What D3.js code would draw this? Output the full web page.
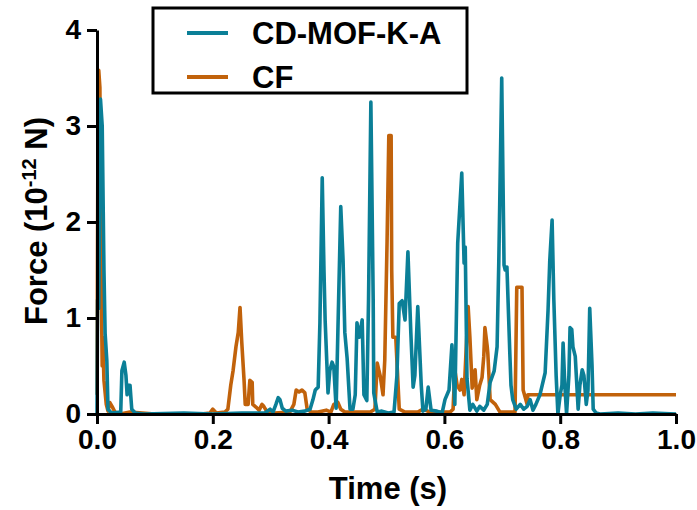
<!DOCTYPE html>
<html>
<head>
<meta charset="utf-8">
<script src="https://cdn.jsdelivr.net/npm/d3@7"></script>
<style>
  html, body { margin: 0; padding: 0; background: #fff; }
  svg { display: block; }
  text { font-family: "Liberation Sans", Arial, sans-serif; font-weight: bold; fill: #000; }
</style>
</head>
<body>
<svg id="chart" width="697" height="510"></svg>
<script>
// ---- data ----
const seriesNames = ["CD-MOF-K-A", "CF"];
const seriesColors = ["#0b7f97", "#c1620b"];

const mofTime = [0.000,0.001,0.003,0.006,0.009,0.012,0.014,0.017,0.019,0.025,
  0.041,0.043,0.047,0.050,0.052,0.054,0.057,0.060,0.066,0.080,0.150,0.200,0.250,0.290,
  0.299,0.304,0.309,0.313,0.316,0.320,0.326,0.337,0.347,0.359,0.368,0.373,0.377,0.382,
  0.385,0.389,0.392,0.394,0.399,0.402,0.406,0.409,0.413,0.416,0.421,0.425,0.428,0.432,
  0.437,0.442,0.446,0.449,0.453,0.458,0.461,0.466,0.469,0.473,0.477,0.478,0.484,0.492,0.503,
  0.513,0.518,0.522,0.527,0.532,0.537,0.542,0.546,0.549,0.554,0.560,0.563,0.568,0.572,
  0.577,0.587,0.596,0.601,0.608,0.613,0.618,0.623,0.630,0.634,0.636,0.639,0.644,0.649,
  0.656,0.661,0.668,0.674,0.679,0.686,0.691,0.694,0.699,0.703,0.705,0.708,0.713,0.715,
  0.718,0.724,0.731,0.737,0.743,0.748,0.753,0.758,0.765,0.774,0.779,0.782,0.786,0.789,
  0.793,0.796,0.800,0.803,0.805,0.808,0.811,0.815,0.817,0.820,0.822,0.826,0.831,0.834,
  0.838,0.841,0.845,0.848,0.851,0.855,0.857,0.862,0.869,0.900,0.930,0.960,1.000];
const mofForce = [0.00,1.19,1.10,3.28,3.00,1.50,0.84,0.55,0.05,0.01,
  0.02,0.45,0.54,0.40,0.20,0.30,0.30,0.05,0.01,0.00,0.01,0.00,0.01,0.01,
  0.05,0.02,0.10,0.17,0.15,0.06,0.03,0.04,0.02,0.03,0.05,0.15,0.25,0.28,
  0.95,2.46,1.50,0.98,0.22,0.45,0.54,0.49,0.06,0.85,2.16,1.60,0.85,0.58,
  0.05,0.05,0.20,0.95,0.80,0.98,0.20,0.14,1.20,3.25,1.20,0.22,0.02,0.03,0.01,
  0.02,0.40,1.15,1.18,0.98,1.69,0.85,0.28,0.40,1.12,0.30,0.03,0.05,0.28,
  0.04,0.03,0.01,0.15,0.25,0.72,0.10,1.78,2.51,1.57,1.74,0.37,0.04,0.10,
  0.03,0.08,0.04,0.10,0.33,0.45,0.70,1.60,3.50,1.55,1.50,1.53,0.63,0.30,
  0.15,0.05,0.10,0.05,0.08,0.15,0.04,0.10,0.20,0.43,1.08,1.60,2.02,1.19,
  0.40,0.00,0.20,0.30,0.74,0.30,0.00,0.40,0.90,0.88,0.70,0.60,0.05,0.30,
  0.46,0.40,0.10,0.25,1.10,0.50,0.05,0.01,0.00,0.01,0.00,0.01,0.00];

const cfTime = [0.000,0.002,0.003,0.005,0.007,0.009,0.010,0.012,0.016,0.019,0.022,0.026,0.031,0.040,
  0.057,0.100,0.180,0.195,0.200,0.206,0.221,0.226,0.231,0.235,0.240,0.244,0.247,0.250,0.254,
  0.256,0.261,0.264,0.268,0.269,0.275,0.280,0.285,0.288,0.294,0.307,0.333,0.340,0.344,0.349,
  0.354,0.359,0.363,0.370,0.382,0.396,0.404,0.409,0.416,0.421,0.428,0.454,0.472,0.480,0.484,
  0.489,0.494,0.497,0.501,0.504,0.508,0.509,0.511,0.516,0.520,0.522,0.532,0.554,0.563,0.575,
  0.610,0.615,0.618,0.622,0.627,0.630,0.634,0.637,0.641,0.644,0.648,0.653,0.656,0.661,0.665,
  0.668,0.670,0.674,0.675,0.679,0.688,0.696,0.722,0.725,0.734,0.736,0.743,0.744,1.000];
const cfForce = [0.20,3.50,3.58,3.40,1.50,0.50,0.80,0.35,0.10,0.03,0.12,0.08,0.02,0.00,
  0.02,0.00,0.00,0.01,0.05,0.01,0.02,0.05,0.30,0.45,0.70,0.85,1.11,0.75,0.35,
  0.10,0.10,0.35,0.33,0.10,0.07,0.04,0.10,0.08,0.02,0.01,0.02,0.10,0.25,0.23,
  0.25,0.22,0.05,0.02,0.02,0.04,0.02,0.10,0.12,0.05,0.02,0.02,0.02,0.05,0.53,
  0.40,0.20,0.56,1.80,2.90,2.90,1.50,0.80,0.80,0.30,0.05,0.02,0.02,0.05,0.02,
  0.02,0.05,0.46,0.30,0.25,0.36,0.20,0.60,1.12,0.80,0.27,0.46,0.15,0.30,0.38,
  0.60,0.90,0.70,0.63,0.15,0.10,0.02,0.02,1.32,1.32,0.25,0.10,0.20,0.20];

const xTicks = [0.0, 0.2, 0.4, 0.6, 0.8, 1.0];
const yTicks = [0, 1, 2, 3, 4];

// ---- drawing ----
const svg = d3.select("#chart");
const x = d3.scaleLinear().domain([0, 1]).range([97, 676]);
const y = d3.scaleLinear().domain([0, 4]).range([414, 30]);

const line = d3.line().x(d => x(d[0])).y(d => y(d[1]));

const cfData = cfTime.map((t, i) => [t, cfForce[i]]);
const mofData = mofTime.map((t, i) => [t, mofForce[i]]);

svg.append("path").datum(cfData)
  .attr("d", line).attr("fill", "none")
  .attr("stroke", seriesColors[1]).attr("stroke-width", 3.6)
  .attr("stroke-linejoin", "round");
svg.append("path").datum(mofData)
  .attr("d", line).attr("fill", "none")
  .attr("stroke", seriesColors[0]).attr("stroke-width", 3.6)
  .attr("stroke-linejoin", "round");

// axes
const xAxis = svg.append("g").attr("transform", "translate(0,414)")
  .call(d3.axisBottom(x).tickValues(xTicks).tickFormat(d3.format(".1f"))
    .tickSize(10).tickSizeOuter(0).tickPadding(5));
const yAxis = svg.append("g").attr("transform", "translate(97,0)")
  .call(d3.axisLeft(y).tickValues(yTicks).tickFormat(d3.format("d"))
    .tickSize(10).tickSizeOuter(0).tickPadding(6));

[xAxis, yAxis].forEach(g => {
  g.select(".domain").attr("stroke", "#000").attr("stroke-width", 3);
  g.selectAll(".tick line").attr("stroke", "#000").attr("stroke-width", 3);
  g.selectAll(".tick text").style("font-size", "28px")
    .style("font-family", "'Liberation Sans', Arial, sans-serif").style("font-weight", "bold")
    .attr("fill", "#000");
});

// axis titles
svg.append("text").attr("x", 388).attr("y", 499)
  .attr("text-anchor", "middle").style("font-size", "31px").text("Time (s)");

const yt = svg.append("text")
  .attr("transform", "translate(47,221) rotate(-90)")
  .attr("text-anchor", "middle").style("font-size", "31px");
yt.append("tspan").text("Force (10");
yt.append("tspan").attr("dy", -11).style("font-size", "20px").text("-12");
yt.append("tspan").attr("dy", 11).text(" N)");

// legend
const lg = svg.append("g");
lg.append("rect").attr("x", 153).attr("y", 8).attr("width", 314).attr("height", 85)
  .attr("fill", "#fff").attr("stroke", "#000").attr("stroke-width", 3);
const legendY = [33, 77];
seriesNames.forEach((name, i) => {
  lg.append("line").attr("x1", 187).attr("x2", 228)
    .attr("y1", legendY[i]).attr("y2", legendY[i])
    .attr("stroke", seriesColors[i]).attr("stroke-width", 4);
  lg.append("text").attr("x", 252).attr("y", legendY[i] + 11)
    .style("font-size", "31px").text(name);
});
</script>
</body>
</html>
